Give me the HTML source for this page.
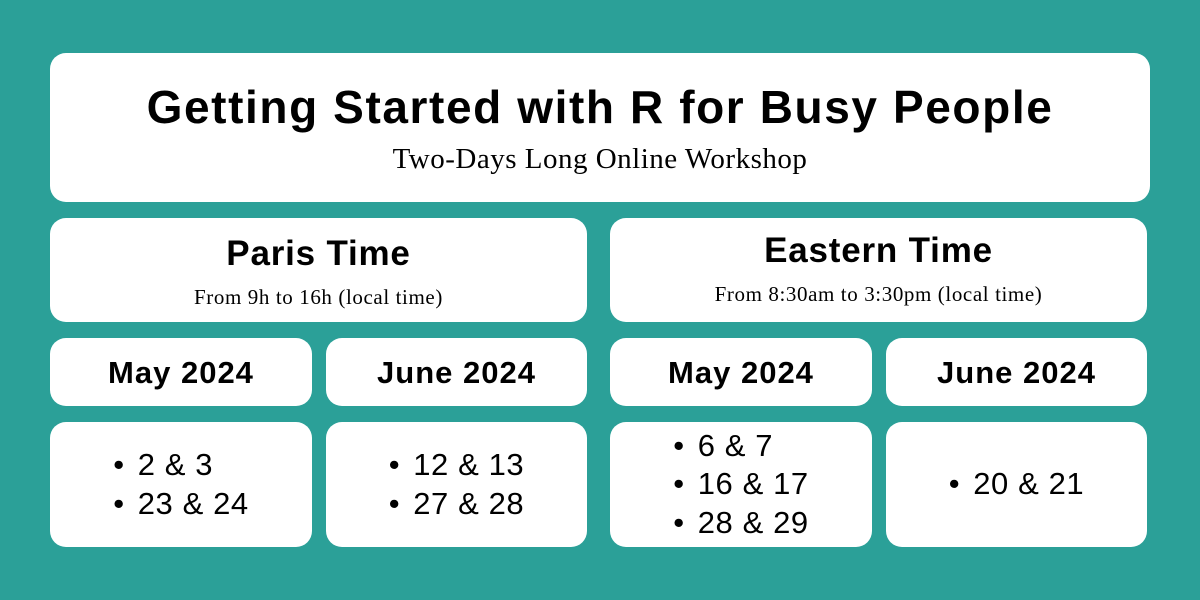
<!DOCTYPE html>
<html><head><meta charset="utf-8"><style>
body{margin:0;width:1200px;height:600px;background:#2ba098;position:relative;overflow:hidden;font-family:"Liberation Sans",sans-serif;color:#000}
.b{position:absolute;background:#fff;border-radius:16px;text-align:center}
.t{position:absolute;left:0;right:0;white-space:nowrap}
.bold{font-weight:bold}
.serif{font-family:"Liberation Serif",serif}
.m{font-weight:bold;font-size:31px;letter-spacing:1px;line-height:70px}
.d{display:flex;align-items:center;justify-content:center}
.d ul{list-style:none;margin:0;padding:0;text-align:left;font-size:31px;letter-spacing:0.6px;line-height:38.5px}
.d li:before{content:"•";margin-right:13px}
</style></head><body>
<div class="b" style="left:50px;top:53px;width:1100px;height:149px">
 <div class="t bold" style="top:27px;font-size:46px;letter-spacing:1.6px">Getting Started with R for Busy People</div>
 <div class="t serif" style="top:90px;font-size:29px;letter-spacing:0.5px">Two-Days Long Online Workshop</div>
</div>
<div class="b" style="left:50px;top:218px;width:537px;height:104px">
 <div class="t bold" style="top:16px;font-size:35px;letter-spacing:0.8px">Paris Time</div>
 <div class="t serif" style="top:67px;font-size:21px;letter-spacing:0.6px">From 9h to 16h (local time)</div>
</div>
<div class="b" style="left:610px;top:218px;width:537px;height:104px">
 <div class="t bold" style="top:13px;font-size:35px;letter-spacing:0.8px">Eastern Time</div>
 <div class="t serif" style="top:64px;font-size:21px;letter-spacing:0.6px">From 8:30am to 3:30pm (local time)</div>
</div>
<div class="b m" style="left:50px;top:338px;width:262px;height:68px">May 2024</div>
<div class="b m" style="left:326px;top:338px;width:261px;height:68px">June 2024</div>
<div class="b m" style="left:610px;top:338px;width:262px;height:68px">May 2024</div>
<div class="b m" style="left:886px;top:338px;width:261px;height:68px">June 2024</div>
<div class="b d" style="left:50px;top:422px;width:262px;height:125px"><ul><li>2 &amp; 3</li><li>23 &amp; 24</li></ul></div>
<div class="b d" style="left:326px;top:422px;width:261px;height:125px"><ul><li>12 &amp; 13</li><li>27 &amp; 28</li></ul></div>
<div class="b d" style="left:610px;top:422px;width:262px;height:125px"><ul><li>6 &amp; 7</li><li>16 &amp; 17</li><li>28 &amp; 29</li></ul></div>
<div class="b d" style="left:886px;top:422px;width:261px;height:125px"><ul><li>20 &amp; 21</li></ul></div>
</body></html>
